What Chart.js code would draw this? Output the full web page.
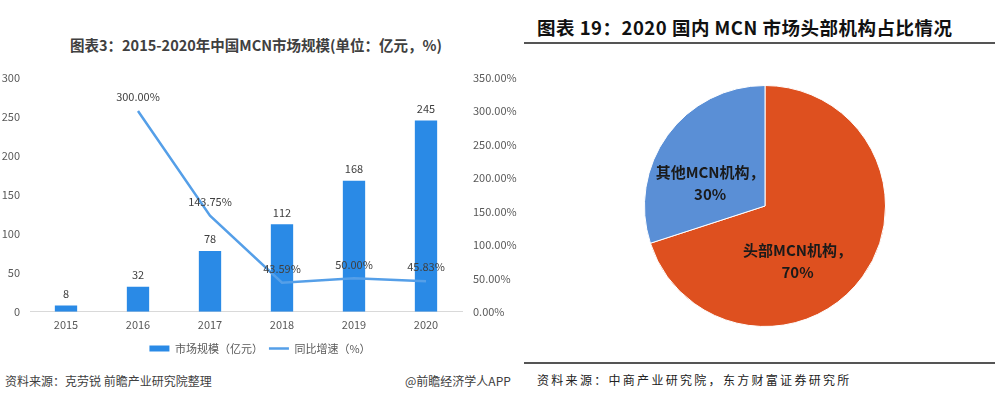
<!DOCTYPE html>
<html>
<head>
<meta charset="utf-8">
<script src="https://cdn.jsdelivr.net/npm/chart.js@4"></script>
<style>
  body { margin: 0; width: 1002px; height: 394px; background: #fff; position: relative; overflow: hidden; font-family: "Noto Sans CJK SC", sans-serif; }
  .abs { position: absolute; white-space: nowrap; }
  #t1 { left: 0; width: 512px; top: 34px; text-align: center; font-size: 14.5px; font-weight: bold; color: #404040; }
  #src1 { left: 5px; top: 372px; font-size: 12px; color: #404040; }
  #app1 { left: 405px; top: 372px; font-size: 12px; color: #404040; }
  #t2 { left: 537px; top: 14px; font-size: 18.5px; font-weight: bold; color: #111; letter-spacing: 0.5px; }
  .rule { position: absolute; left: 524px; width: 471px; height: 1.5px; background: #555; }
  #src2 { left: 537px; top: 371px; font-size: 12px; color: #222; letter-spacing: 2.3px; }
  #c1 { position: absolute; left: 0; top: 60px; }
  #c2 { position: absolute; left: 644px; top: 85px; }
</style>
</head>
<body>
<div class="abs" id="t1">图表3：2015-2020年中国MCN市场规模(单位：亿元，%)</div>
<div class="abs" id="src1">资料来源：克劳锐 前瞻产业研究院整理</div>
<div class="abs" id="app1">@前瞻经济学人APP</div>
<div class="abs" id="t2">图表 19：2020 国内 MCN 市场头部机构占比情况</div>
<div class="rule" style="top:42px"></div>
<div class="rule" style="top:362px"></div>
<div class="abs" id="src2">资料来源：中商产业研究院，东方财富证券研究所</div>
<canvas id="c1" width="520" height="304"></canvas>
<canvas id="c2" width="242" height="242"></canvas>
<script>
const YEARS = ["2015", "2016", "2017", "2018", "2019", "2020"];
const MARKET_SIZE = [8, 32, 78, 112, 168, 245];
const GROWTH = [null, 300.00, 143.75, 43.59, 50.00, 45.83];
const SHARE_LABELS = ["头部MCN机构", "其他MCN机构"];
const SHARE_VALUES = [70, 30];

const FONT = "'Noto Sans CJK SC', sans-serif";
const BAR_BLUE = "#2a8ae6";
const LINE_BLUE = "#559fe8";

// value labels above bars and line points
const valueLabels = {
  id: "valueLabels",
  afterDatasetsDraw(chart) {
    const { ctx } = chart;
    ctx.save();
    ctx.font = "11px " + FONT;
    ctx.fillStyle = "#404040";
    ctx.textAlign = "center";
    ctx.textBaseline = "middle";
    chart.getDatasetMeta(0).data.forEach((bar, i) => {
      ctx.fillText(String(MARKET_SIZE[i]), bar.x, bar.y - 12);
    });
    chart.getDatasetMeta(1).data.forEach((pt, i) => {
      if (GROWTH[i] == null) return;
      ctx.fillText(GROWTH[i].toFixed(2) + "%", pt.x, pt.y - 14);
    });
    ctx.restore();
  },
};

new Chart(document.getElementById("c1"), {
  type: "bar",
  data: {
    labels: YEARS,
    datasets: [
      {
        label: "市场规模（亿元）",
        data: MARKET_SIZE,
        backgroundColor: BAR_BLUE,
        barPercentage: 0.31,
        categoryPercentage: 1,
        pointStyle: "rect",
        order: 1,
        yAxisID: "y",
      },
      {
        type: "line",
        label: "同比增速（%）",
        data: GROWTH,
        borderColor: LINE_BLUE,
        backgroundColor: LINE_BLUE,
        borderWidth: 2.5,
        pointRadius: 0,
        pointStyle: "line",
        tension: 0,
        order: 0,
        yAxisID: "y2",
      },
    ],
  },
  options: {
    responsive: false,
    animation: false,
    layout: { padding: { top: 13, bottom: 0 } },
    plugins: {
      legend: {
        position: "bottom",
        labels: {
          usePointStyle: true,
          pointStyleWidth: 20,
          boxHeight: 6,
          padding: 6,
          color: "#595959",
          font: { family: FONT, size: 11 },
          sort: (a, b) => a.datasetIndex - b.datasetIndex,
        },
      },
      tooltip: { enabled: false },
    },
    scales: {
      x: {
        grid: { display: false, drawTicks: false },
        border: { color: "#d9d9d9" },
        ticks: { color: "#595959", font: { family: FONT, size: 11 }, padding: 6 },
      },
      y: {
        position: "left",
        min: 0,
        max: 300,
        grid: { display: false, drawTicks: false },
        border: { display: false },
        ticks: { stepSize: 50, color: "#595959", font: { family: FONT, size: 11 }, padding: 10 },
        afterFit(s) { s.width = 30; },
      },
      y2: {
        position: "right",
        min: 0,
        max: 350,
        grid: { display: false, drawTicks: false },
        border: { display: false },
        ticks: {
          stepSize: 50,
          color: "#595959",
          font: { family: FONT, size: 11 },
          padding: 11,
          callback: v => v.toFixed(2) + "%",
        },
        afterFit(s) { s.width = 58; },
      },
    },
  },
  plugins: [valueLabels],
});

// label placement inside the pie, in units of the outer radius
const PIE_LABEL_OFFSETS = [[0.27, 0.455], [-0.455, -0.19]];

const pieLabels = {
  id: "pieLabels",
  afterDatasetsDraw(chart) {
    const { ctx } = chart;
    const arcs = chart.getDatasetMeta(0).data;
    ctx.save();
    ctx.font = "bold 15px " + FONT;
    ctx.fillStyle = "#1a1a1a";
    ctx.textAlign = "center";
    ctx.textBaseline = "middle";
    arcs.forEach((arc, i) => {
      const r = arc.outerRadius;
      const cx = arc.x + PIE_LABEL_OFFSETS[i][0] * r;
      const cy = arc.y + PIE_LABEL_OFFSETS[i][1] * r;
      ctx.fillText(SHARE_LABELS[i] + "，", cx, cy - 11);
      ctx.fillText(SHARE_VALUES[i] + "%", cx, cy + 11);
    });
    ctx.restore();
  },
};

new Chart(document.getElementById("c2"), {
  type: "pie",
  data: {
    labels: SHARE_LABELS,
    datasets: [{
      data: SHARE_VALUES,
      backgroundColor: ["#de501f", "#5a8fd6"],
      borderColor: "#fff",
      borderWidth: 1,
    }],
  },
  options: {
    responsive: false,
    animation: false,
    plugins: { legend: { display: false }, tooltip: { enabled: false } },
  },
  plugins: [pieLabels],
});
</script>
</body>
</html>
